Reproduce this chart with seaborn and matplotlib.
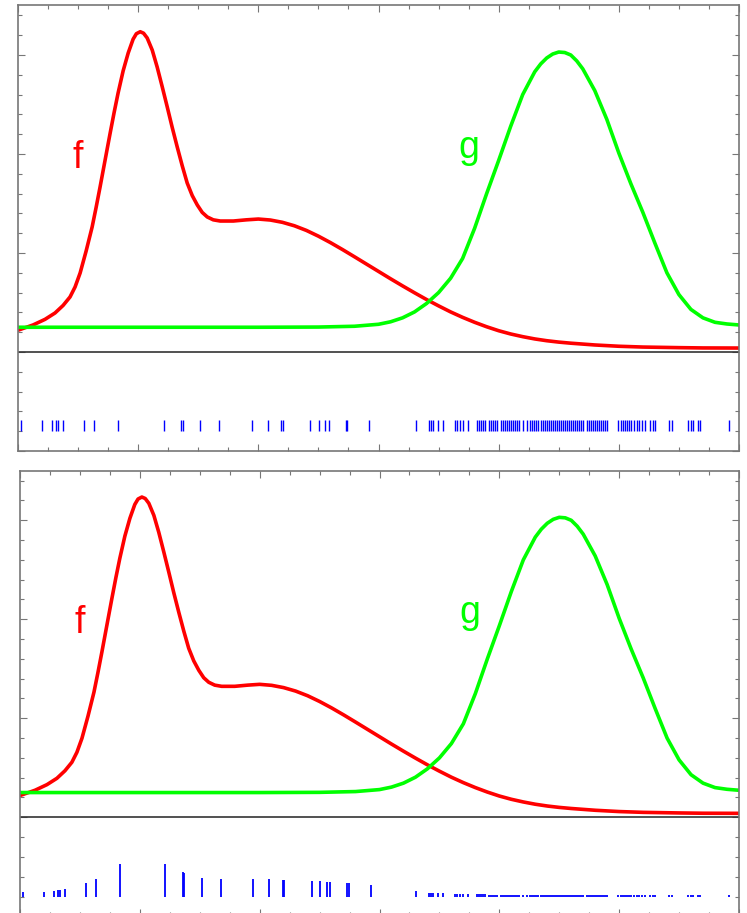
import matplotlib
matplotlib.use("Agg")
import matplotlib.pyplot as plt
from matplotlib.ticker import MultipleLocator, NullFormatter
import seaborn as sns

sns.set_style("white")
plt.rcParams["font.family"] = ["Liberation Sans", "DejaVu Sans"]

# ---- data ----
f_x = [0.0, 0.125, 0.225, 0.308, 0.375, 0.433, 0.475, 0.517, 0.567, 0.617, 0.65,
       0.683, 0.725, 0.767, 0.8, 0.833, 0.875, 0.917, 0.958, 0.985, 1.017, 1.045,
       1.075, 1.117, 1.158, 1.2, 1.242, 1.283, 1.325, 1.367, 1.408, 1.45, 1.492,
       1.533, 1.575, 1.625, 1.683, 1.792, 1.9, 2.0, 2.1, 2.2, 2.3, 2.4, 2.5,
       2.6, 2.7, 2.8, 2.9, 3.0, 3.1, 3.2, 3.3, 3.4, 3.5, 3.6, 3.7, 3.8, 3.9,
       4.0, 4.1, 4.2, 4.3, 4.4, 4.5, 4.6, 4.8, 5.0, 5.2, 5.5, 5.7, 6.0]
f_y = [0.22, 0.273, 0.33, 0.394, 0.47, 0.556, 0.657, 0.798, 1.02, 1.263, 1.46,
       1.667, 1.94, 2.212, 2.42, 2.616, 2.84, 3.02, 3.16, 3.215, 3.235, 3.22,
       3.172, 3.05, 2.879, 2.68, 2.475, 2.27, 2.071, 1.88, 1.707, 1.58, 1.485,
       1.41, 1.364, 1.335, 1.323, 1.323, 1.335, 1.343, 1.333, 1.31, 1.275, 1.228,
       1.17, 1.105, 1.035, 0.962, 0.888, 0.814, 0.74, 0.668, 0.598, 0.53, 0.466,
       0.405, 0.35, 0.30, 0.255, 0.215, 0.182, 0.155, 0.132, 0.114, 0.1, 0.089,
       0.071, 0.058, 0.05, 0.044, 0.041, 0.04]

g_x = [0.0, 1.0, 2.0, 2.5, 2.8, 3.0, 3.1, 3.2, 3.3, 3.4, 3.5, 3.6, 3.7, 3.8,
       3.9, 4.0, 4.1, 4.2, 4.3, 4.35, 4.4, 4.45, 4.5, 4.55, 4.6, 4.65, 4.7, 4.8,
       4.9, 5.0, 5.1, 5.2, 5.3, 5.4, 5.5, 5.6, 5.7, 5.8, 5.9, 6.0]
g_y = [0.25, 0.25, 0.25, 0.252, 0.26, 0.28, 0.305, 0.345, 0.405, 0.49, 0.6,
       0.745, 0.945, 1.25, 1.6, 1.935, 2.28, 2.6, 2.83, 2.91, 2.97, 3.01, 3.03,
       3.025, 3.0, 2.94, 2.86, 2.64, 2.35, 2.01, 1.7, 1.41, 1.1, 0.8, 0.58, 0.43,
       0.345, 0.3, 0.283, 0.273]

samples = [0.025, 0.198, 0.281, 0.317, 0.336, 0.378, 0.55, 0.633, 0.831, 1.211,
           1.358, 1.371, 1.517, 1.675, 1.948, 2.078, 2.192, 2.204, 2.433, 2.503,
           2.558, 2.586, 2.729, 2.742, 2.925,
           3.308, 3.417, 3.433, 3.45, 3.492, 3.533, 3.633, 3.65, 3.675, 3.7, 3.742,
           3.817, 3.833, 3.85, 3.867, 3.883, 3.917, 3.933, 3.95, 3.967, 3.983,
           4.017, 4.033, 4.05, 4.067, 4.083, 4.1, 4.117, 4.133, 4.15, 4.167,
           4.2, 4.233, 4.258, 4.275, 4.292, 4.308, 4.325, 4.35, 4.367, 4.383,
           4.4, 4.417, 4.433, 4.45, 4.467, 4.483, 4.5, 4.517, 4.533, 4.55,
           4.567, 4.583, 4.6, 4.617, 4.633, 4.65, 4.667, 4.683, 4.7, 4.733,
           4.75, 4.767, 4.783, 4.8, 4.817, 4.833, 4.85, 4.867, 4.883, 4.9,
           4.992, 5.017, 5.033, 5.05, 5.067, 5.083, 5.1, 5.125, 5.15, 5.167,
           5.192, 5.217, 5.258, 5.283, 5.3, 5.417, 5.442, 5.575, 5.6, 5.617,
           5.658, 5.675, 5.917]

weights = [0.047, 0.05, 0.06, 0.068, 0.068, 0.078, 0.138, 0.18, 0.33, 0.33,
           0.25, 0.24, 0.19, 0.18, 0.18, 0.18, 0.17, 0.17, 0.16, 0.16,
           0.15, 0.15, 0.14, 0.14, 0.12,
           0.055, 0.04, 0.04, 0.04, 0.04, 0.04, 0.027, 0.027, 0.027, 0.027, 0.027,
           0.022, 0.022, 0.022, 0.022, 0.022, 0.02, 0.02, 0.02, 0.02, 0.02,
           0.02, 0.02, 0.02, 0.02, 0.02, 0.02, 0.02, 0.02, 0.02, 0.02,
           0.02, 0.02, 0.02, 0.02, 0.02, 0.02, 0.02, 0.02, 0.02, 0.02,
           0.02, 0.02, 0.02, 0.02, 0.02, 0.02, 0.02, 0.02, 0.02, 0.02,
           0.02, 0.02, 0.02, 0.02, 0.02, 0.02, 0.02, 0.02, 0.02, 0.02,
           0.02, 0.02, 0.02, 0.02, 0.02, 0.02, 0.02, 0.02, 0.02, 0.02,
           0.018, 0.018, 0.018, 0.018, 0.018, 0.018, 0.018, 0.018, 0.018, 0.018,
           0.018, 0.018, 0.018, 0.018, 0.018, 0.015, 0.015, 0.015, 0.015, 0.015,
           0.015, 0.015, 0.012]

labels = ["f", "g"]
label_x = [0.5, 3.75]
label_y = [1.86, 1.96]

# ---- figure ----
W, H = 747, 913
fig = plt.figure(figsize=(W / 100, H / 100), dpi=100)


def add(l, t, r, b):
    return fig.add_axes([l / W, 1 - b / H, (r - l) / W, (b - t) / H])


axes = [add(18, 5.5, 739, 451), add(20, 470.8, 739, 916.3)]
frame_col = "#777777"

for i, ax in enumerate(axes):
    sns.lineplot(x=f_x, y=f_y, color="#ff0000", lw=2.6, ax=ax, sort=False)
    sns.lineplot(x=g_x, y=g_y, color="#00ff00", lw=2.6, ax=ax, sort=False)
    ax.axhline(0, color="#333333", lw=1.2)
    if i == 0:
        ax.vlines(samples, -0.8, -0.69, color="#0000ff", lw=1.0)
    else:
        ax.vlines(samples, -0.8, [-0.8 + w for w in weights], color="#0000ff", lw=1.3)
    ax.text(label_x[0], label_y[0], labels[0], color="#ff0000", fontsize=27,
            ha="center", va="baseline")
    ax.text(label_x[1], label_y[1], labels[1], color="#00ff00", fontsize=27,
            ha="center", va="baseline")
    ax.set_xlim(0, 6)
    ax.set_ylim(-1, 3.5)
    ax.xaxis.set_major_locator(MultipleLocator(1))
    ax.xaxis.set_minor_locator(MultipleLocator(0.25))
    ax.yaxis.set_major_locator(MultipleLocator(1))
    ax.yaxis.set_minor_locator(MultipleLocator(0.2))
    ax.xaxis.set_major_formatter(NullFormatter())
    ax.yaxis.set_major_formatter(NullFormatter())
    ax.tick_params(which="both", direction="in", top=True, right=True,
                   bottom=True, left=True, color=frame_col, width=0.8)
    ax.tick_params(which="major", length=5)
    ax.tick_params(which="minor", length=3)
    ax.set_xlabel("")
    ax.set_ylabel("")
    for s in ax.spines.values():
        s.set_color(frame_col)
        s.set_linewidth(1.2)
        s.set_visible(True)

fig.savefig("out.png", dpi=100, facecolor="white")
